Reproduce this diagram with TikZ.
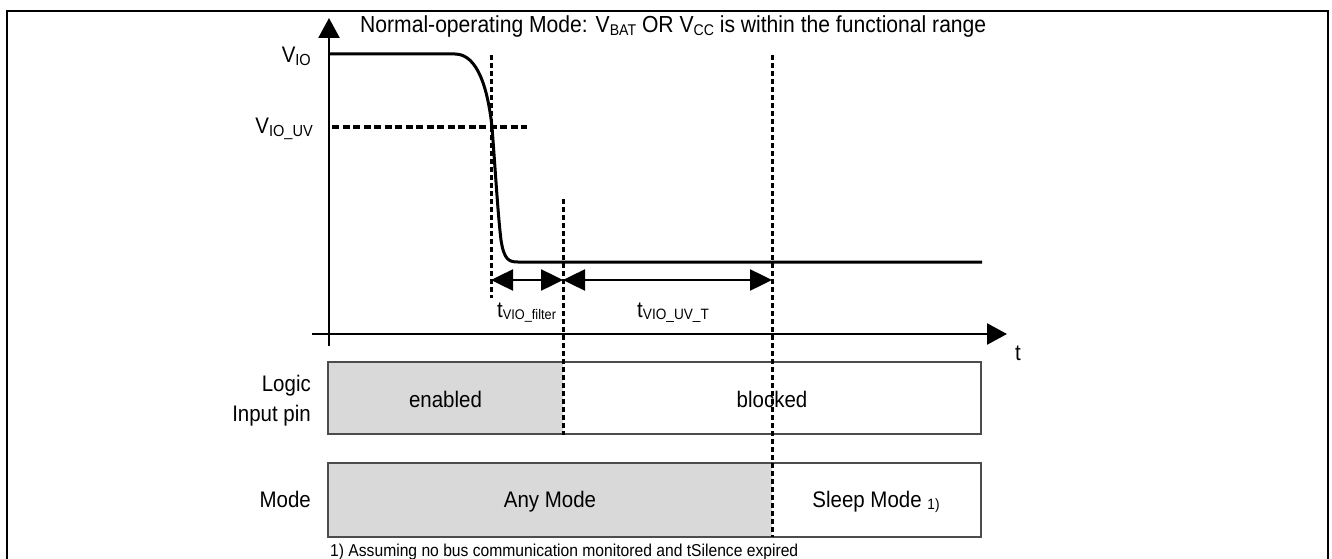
\documentclass[tikz,border=0pt]{standalone}
\usepackage{fontspec}
\setmainfont{Liberation Sans}[FakeStretch=0.91]
\usetikzlibrary{arrows.meta}
\newcommand\lowsub[2]{\raisebox{-0.12em}{\fontsize{#1}{#1}\selectfont #2}}
\definecolor{boxgray}{HTML}{D9D9D9}
\begin{document}
\begin{tikzpicture}[x=1pt,y=-1pt,
  txt/.style={font=\fontsize{22.5}{27}\selectfont, inner sep=0pt},
  ttl/.style={font=\fontsize{23.2}{27}\selectfont, inner sep=0pt},
  small/.style={font=\fontsize{17.2}{20}\selectfont, inner sep=0pt},
  axis/.style={line width=2.5pt, -{Triangle[length=20pt,width=21pt]}},
  signal/.style={line width=3pt},
  vdash/.style={line width=3pt, dash pattern=on 5pt off 3pt},
  hdash/.style={line width=3pt, dash pattern=on 7pt off 3.5pt},
  dim/.style={line width=2.5pt, {Triangle[length=22pt,width=21pt]}-{Triangle[length=22pt,width=21pt]}},
  boxline/.style={draw=black!70, line width=1.3pt}]
\useasboundingbox (0,0) rectangle (1332,559);
% frame
\draw[line width=1.5pt] (7,559) -- (7,11) -- (1328,11) -- (1328,559);
% axes
\coordinate (yb) at (329,346);
\coordinate (yt) at (329,18);
\coordinate (xl) at (312,334);
\coordinate (xr) at (1007,334);
\draw[axis] (yb) -- (yt);
\draw[axis] (xl) -- (xr);
\node[txt, anchor=base west] (tlab) at (1015,360) {t};
% title
\node[ttl, anchor=base west] (title) at (360,33) {Normal-operating Mode: V\lowsub{15.5}{BAT} OR V\lowsub{15.5}{CC} is within the functional range};
% level labels
\node[txt, anchor=base east] (vio) at (311,63) {V\lowsub{16}{IO}};
\node[txt, anchor=base east] (viouv) at (313,134) {V\lowsub{16}{IO\_UV}};
% signal
\coordinate (s0) at (329,54);
\coordinate (s1) at (455,54);
\coordinate (s2) at (492,127);
\coordinate (s3) at (501,240);
\coordinate (s4) at (518,262);
\coordinate (s5) at (982,262);
\draw[signal] (s0) -- (s1) .. controls (478,54) and (488,90) .. (s2)
  .. controls (496,180) and (498,215) .. (s3)
  .. controls (504,260) and (509,262) .. (s4) -- (s5);
% dashed lines
\coordinate (h0) at (332,127);
\coordinate (h1) at (527,127);
\draw[hdash] (h0) -- (h1);
\coordinate (v1t) at (491,55);
\coordinate (v1b) at (491,298);
\coordinate (v2t) at (563,199);
\coordinate (v2b) at (563,435);
\coordinate (v3t) at (772,55);
\coordinate (v3b) at (772,537);
% boxes
\fill[boxgray] (328,362) rectangle (563,434);
\draw[boxline] (328,362) rectangle (981,434);
\fill[boxgray] (328,463) rectangle (772,537);
\draw[boxline] (328,463) rectangle (981,537);
\draw[vdash] (v1t) -- (v1b);
\draw[vdash] (v2t) -- (v2b);
\draw[vdash] (v3t) -- (v3b);
% dimension arrows
\coordinate (d1) at (491,280);
\coordinate (d2) at (563,280);
\coordinate (d3) at (772,280);
\draw[dim] (d1) -- (d2);
\draw[dim] (d2) -- (d3);
\node[txt, anchor=base west] (tf) at (497,317) {t\lowsub{14}{VIO\_filter}};
\node[txt, anchor=base west] (tu) at (637,317) {t\lowsub{15}{VIO\_UV\_T}};
% row labels
\node[txt, anchor=base east] (logic) at (311,391) {Logic};
\node[txt, anchor=base east] (inpin) at (311,421) {Input pin};
\node[txt, anchor=base east] (mode) at (311,507) {Mode};
\node[txt, anchor=base] (en) at (445.5,407) {enabled};
\node[txt, anchor=base] (bl) at (772,407) {blocked};
\node[txt, anchor=base] (any) at (550,507) {Any Mode};
\node[txt, anchor=base] (sleep) at (876,507) {Sleep Mode \lowsub{15}{1)}};
\node[small, anchor=base west] (foot) at (330,556) {1) Assuming no bus communication monitored and tSilence expired};
\end{tikzpicture}
\end{document}
